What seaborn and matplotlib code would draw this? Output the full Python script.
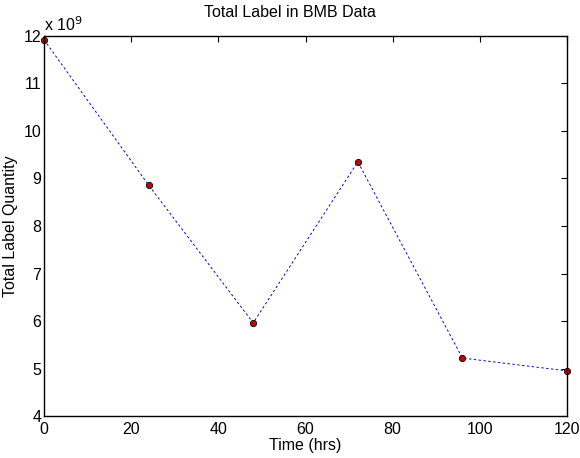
import numpy as np
import pandas as pd
import matplotlib
matplotlib.use("Agg")
import matplotlib.pyplot as plt
import seaborn as sns

# data (label quantity in units of 1e9)
time_hrs = [0, 24, 48, 72, 96, 120]
label_qty = [11.92, 8.86, 5.96, 9.35, 5.22, 4.95]

df = pd.DataFrame({"time": time_hrs, "qty": label_qty})

sns.set_style("white")
plt.rcParams['font.family'] = ['Liberation Sans', 'DejaVu Sans']
plt.rcParams['text.color'] = 'black'
plt.rcParams['axes.labelcolor'] = 'black'

fig = plt.figure(figsize=(5.8, 4.58), dpi=100)
ax = fig.add_axes([0.0759, 0.0917, 0.9017, 0.8297])

sns.lineplot(data=df, x="time", y="qty", ax=ax, color="#0000ff", linestyle=(0, (2.5, 2.5)),
             linewidth=0.7, marker="o", markersize=4.5, markerfacecolor="#cc0000",
             markeredgecolor="black", markeredgewidth=0.6, clip_on=False)

ax.set_xlim(0, 120)
ax.set_ylim(4, 12)
ax.set_xticks(np.arange(0, 121, 20))
ax.set_yticks(np.arange(4, 13, 1))
ax.tick_params(axis="both", direction="in", top=True, right=True, length=4, width=0.8,
               labelsize=11.5, colors="black", labelcolor="black")
ax.tick_params(axis="x", pad=4)
ax.tick_params(axis="y", pad=2)
for s in ax.spines.values():
    s.set_visible(True)
    s.set_color("black")
    s.set_linewidth(1.0)

ax.set_xlabel("Time (hrs)", fontsize=11.5, labelpad=1, color="black")
ax.set_ylabel("Total Label Quantity", fontsize=11.5, labelpad=4, color="black")
fig.text(0.5, 0.972, "Total Label in BMB Data", fontsize=11.5, ha="center", va="center",
         color="black")
ax.text(0.0, 1.005, r"x 10$^{9}$", transform=ax.transAxes, fontsize=11.5,
        ha="left", va="bottom", color="black")

fig.savefig("out.png", dpi=100)
